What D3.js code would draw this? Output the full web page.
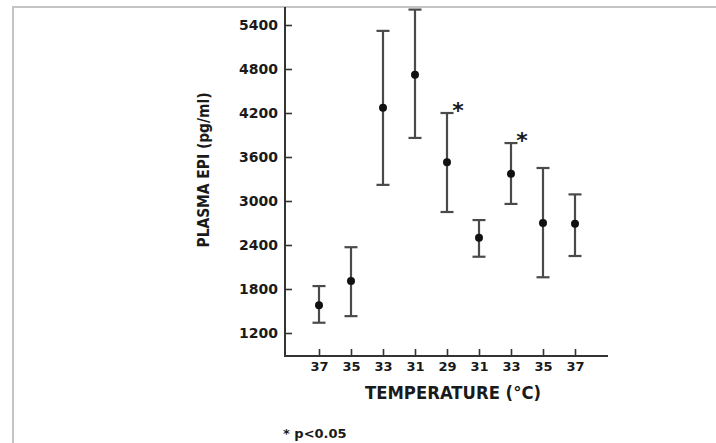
<!DOCTYPE html>
<html>
<head>
<meta charset="utf-8">
<script src="https://cdn.jsdelivr.net/npm/d3@7"></script>
<style>
  html, body { margin: 0; padding: 0; background: #fff; }
  svg text { font-family: "DejaVu Sans", sans-serif; font-weight: bold; fill: #1a1a1a; }
</style>
</head>
<body>
<svg id="chart" width="716" height="443"></svg>
<script>
// data
const temps = ["37", "35", "33", "31", "29", "31", "33", "35", "37"];
const means = [1580, 1910, 4270, 4720, 3530, 2500, 3370, 2700, 2690];
const upper = [1840, 2370, 5320, 5610, 4200, 2740, 3790, 3450, 3090];
const lower = [1340, 1430, 3220, 3860, 2850, 2240, 2960, 1960, 2250];
const starred = [4, 6]; // p < 0.05
const yTicks = [1200, 1800, 2400, 3000, 3600, 4200, 4800, 5400];

const svg = d3.select("#chart");

// frame of the scanned page
svg.append("path")
  .attr("d", "M13,443 V7 H716")
  .attr("fill", "none")
  .attr("stroke", "#c4c4c4")
  .attr("stroke-width", 2);

const x0 = 285, x1 = 608, yTop = 7, yBot = 356;

const x = d3.scalePoint()
  .domain(d3.range(temps.length))
  .range([319, 575]);

const yBase = d3.scaleLinear().domain([1200, 5400]).range([333, 25]);
const y = yBase.copy()
  .domain([yBase.invert(yBot), yBase.invert(yTop)])
  .range([yBot, yTop]);

// axes
const yAxis = svg.append("g")
  .attr("transform", `translate(${x0},0)`)
  .call(d3.axisLeft(y).tickValues(yTicks).tickFormat(d3.format("d"))
    .tickSize(-7).tickSizeOuter(0).tickPadding(7));
yAxis.select(".domain").remove();
yAxis.selectAll(".tick line").attr("stroke", "#333").attr("stroke-width", 1.6);
yAxis.selectAll(".tick text").style("font-size", "14px").attr("fill", "#1a1a1a");

const xAxis = svg.append("g")
  .attr("transform", `translate(0,${yBot})`)
  .call(d3.axisBottom(x).tickFormat(i => temps[i]).tickSize(-7).tickSizeOuter(0).tickPadding(6));
xAxis.select(".domain").remove();
xAxis.selectAll(".tick line").attr("stroke", "#333").attr("stroke-width", 1.6);
xAxis.selectAll(".tick text").style("font-size", "13px").attr("fill", "#1a1a1a");

svg.append("path")
  .attr("d", `M${x0},${yTop} V${yBot} H${x1}`)
  .attr("fill", "none")
  .attr("stroke", "#333")
  .attr("stroke-width", 2);

// error bars
const idx = d3.range(temps.length);
const cap = 6.5;
const bars = svg.append("g").attr("stroke", "#4a4a4a").attr("stroke-width", 2.2);
bars.selectAll(".stem").data(idx).join("line")
  .attr("x1", i => x(i)).attr("x2", i => x(i))
  .attr("y1", i => y(upper[i])).attr("y2", i => y(lower[i]));
bars.selectAll(".capHi").data(idx).join("line")
  .attr("x1", i => x(i) - cap).attr("x2", i => x(i) + cap)
  .attr("y1", i => y(upper[i])).attr("y2", i => y(upper[i]));
bars.selectAll(".capLo").data(idx).join("line")
  .attr("x1", i => x(i) - cap).attr("x2", i => x(i) + cap)
  .attr("y1", i => y(lower[i])).attr("y2", i => y(lower[i]));

svg.append("g").selectAll("circle").data(idx).join("circle")
  .attr("cx", i => x(i))
  .attr("cy", i => y(means[i]))
  .attr("r", 4)
  .attr("fill", "#111");

// significance marks
svg.append("g").selectAll("text").data(starred).join("text")
  .attr("x", i => x(i) + 11)
  .attr("y", i => y(upper[i]) + 5)
  .attr("text-anchor", "middle")
  .style("font-size", "22px")
  .text("*");

// titles
svg.append("text")
  .attr("x", 453)
  .attr("y", 399)
  .attr("text-anchor", "middle")
  .attr("textLength", 176)
  .attr("lengthAdjust", "spacingAndGlyphs")
  .style("font-size", "17px")
  .text("TEMPERATURE (°C)");

svg.append("text")
  .attr("transform", "translate(209,170) rotate(-90)")
  .attr("text-anchor", "middle")
  .attr("textLength", 155)
  .attr("lengthAdjust", "spacingAndGlyphs")
  .style("font-size", "16px")
  .text("PLASMA EPI (pg/ml)");

svg.append("text")
  .attr("x", 283)
  .attr("y", 438)
  .style("font-size", "13px")
  .text("* p<0.05");
</script>
</body>
</html>
